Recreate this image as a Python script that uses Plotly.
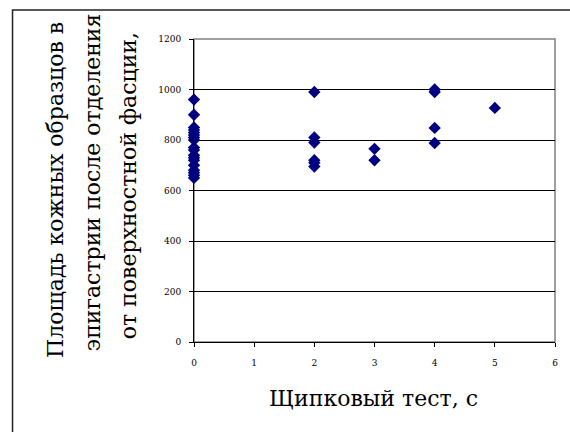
import plotly.graph_objects as go

# Data
x_vals = [0]*18 + [2]*6 + [3]*2 + [4]*4 + [5]
y_vals = [960, 900, 850, 840, 830, 820, 810, 800, 770, 760, 740, 730, 720, 700, 680, 670, 660, 650,
          990, 810, 790, 720, 710, 695,
          765, 720,
          1000, 990, 848, 788,
          927]

x_ticks = [0, 1, 2, 3, 4, 5, 6]
y_ticks = [0, 200, 400, 600, 800, 1000, 1200]

x_title = "Щипковый тест, с"
y_title_lines = ["Площадь кожных образцов в",
                 "эпигастрии после отделения",
                 "от поверхностной фасции,"]

fig = go.Figure()
fig.add_trace(go.Scatter(
    x=x_vals, y=y_vals, mode="markers",
    marker=dict(symbol="diamond", size=9.5, color="#000080", line=dict(width=0)),
    cliponaxis=False, showlegend=False,
))

serif = "DejaVu Serif"

line_x = [-0.382, -0.281, -0.183]
line_y = [0.502, 0.526, 0.517]
annotations = [
    dict(text=x_title, xref="paper", yref="paper", x=0.497, y=-0.185, showarrow=False,
         xanchor="center", yanchor="middle", font=dict(size=22, family=serif, color="black")),
]
for t, lx, ly in zip(y_title_lines, line_x, line_y):
    annotations.append(dict(text=t, xref="paper", yref="paper", x=lx, y=ly, showarrow=False,
                            textangle=-90, xanchor="center", yanchor="middle",
                            font=dict(size=22, family=serif, color="black")))

fig.update_layout(
    width=570, height=432,
    margin=dict(l=194, r=12, t=39, b=90),
    paper_bgcolor="white", plot_bgcolor="white",
    font=dict(family=serif, color="black"),
    xaxis=dict(range=[0, 6], tickvals=x_ticks, ticks="outside", ticklen=4, tickcolor="black",
               showline=True, linecolor="black", linewidth=1, showgrid=False, zeroline=False,
               tickfont=dict(size=9, family=serif, color="black"), ticklabelstandoff=8),
    yaxis=dict(range=[0, 1200], tickvals=y_ticks, ticks="outside", ticklen=4, tickcolor="black",
               showline=True, linecolor="black", linewidth=1, showgrid=True, gridcolor="black",
               gridwidth=1, zeroline=False, tickfont=dict(size=9, family=serif, color="black"),
               ticklabelstandoff=6),
    shapes=[
        dict(type="rect", xref="paper", yref="paper", x0=0, x1=1, y0=0, y1=1,
             line=dict(color="#808080", width=1.5), layer="below"),
        dict(type="rect", xref="paper", yref="paper", x0=-0.5027, x1=1.2, y0=-0.5, y1=1.0957,
             line=dict(color="#222222", width=1.5)),
    ],
    annotations=annotations,
)

fig.write_html("out.html")
